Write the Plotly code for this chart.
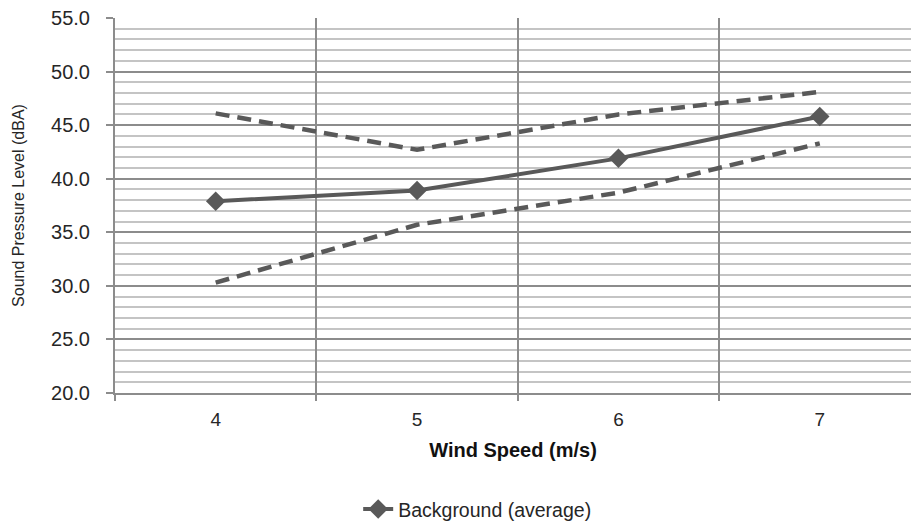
import plotly.graph_objects as go

categories = ["4", "5", "6", "7"]
background = [37.9, 38.9, 41.9, 45.8]
upper = [46.1, 42.7, 46.0, 48.1]
lower = [30.3, 35.7, 38.7, 43.3]
y_ticks = [20, 25, 30, 35, 40, 45, 50, 55]

col = "#595959"
fig = go.Figure()
fig.add_trace(go.Scatter(x=categories, y=upper, mode="lines", showlegend=False,
                         line=dict(color=col, width=4.5, dash="14px,8px")))
fig.add_trace(go.Scatter(x=categories, y=lower, mode="lines", showlegend=False,
                         line=dict(color=col, width=4.5, dash="14px,8px")))
fig.add_trace(go.Scatter(x=categories, y=background, mode="lines+markers",
                         name="Background (average)",
                         line=dict(color=col, width=4),
                         marker=dict(symbol="diamond", size=15, color=col)))

fig.update_layout(
    width=911, height=529,
    margin=dict(l=115, r=0, t=18, b=133),
    paper_bgcolor="white", plot_bgcolor="white",
    font=dict(family="Liberation Sans, Arial, sans-serif", color="#262626"),
    legend=dict(orientation="h", x=0.455, xanchor="center", y=-0.31, yanchor="middle",
                font=dict(family="Liberation Sans, Arial", size=19.5, color="#262626")),
    xaxis=dict(type="category", range=[-0.5, 3.453], tickson="boundaries",
               showgrid=True, gridcolor="#8c8c8c", gridwidth=2,
               showline=True, linecolor="#8c8c8c", linewidth=2,
               ticks="outside", ticklen=6, tickcolor="#8c8c8c", tickwidth=2,
               ticklabelstandoff=8,
               tickfont=dict(size=19, color="#262626"),
               title=dict(text="<b>Wind Speed (m/s)</b>", standoff=14,
                          font=dict(family="Liberation Sans, Arial", size=20, color="#111111")),
               zeroline=False),
    yaxis=dict(range=[20, 55], tickvals=y_ticks, tickformat=".1f",
               showgrid=True, gridcolor="#8c8c8c", gridwidth=2,
               showline=True, linecolor="#8c8c8c", linewidth=2,
               ticks="outside", ticklen=7, tickcolor="#8c8c8c", tickwidth=2,
               ticklabelstandoff=12,
               tickfont=dict(size=20, color="#262626"),
               minor=dict(dtick=1, showgrid=True, gridcolor="#c4c4c4", gridwidth=2, ticks=""),
               title=dict(text="Sound Pressure Level (dBA)", standoff=22,
                          font=dict(size=16, color="#262626")),
               zeroline=False),
)

fig.write_html("out.html")
